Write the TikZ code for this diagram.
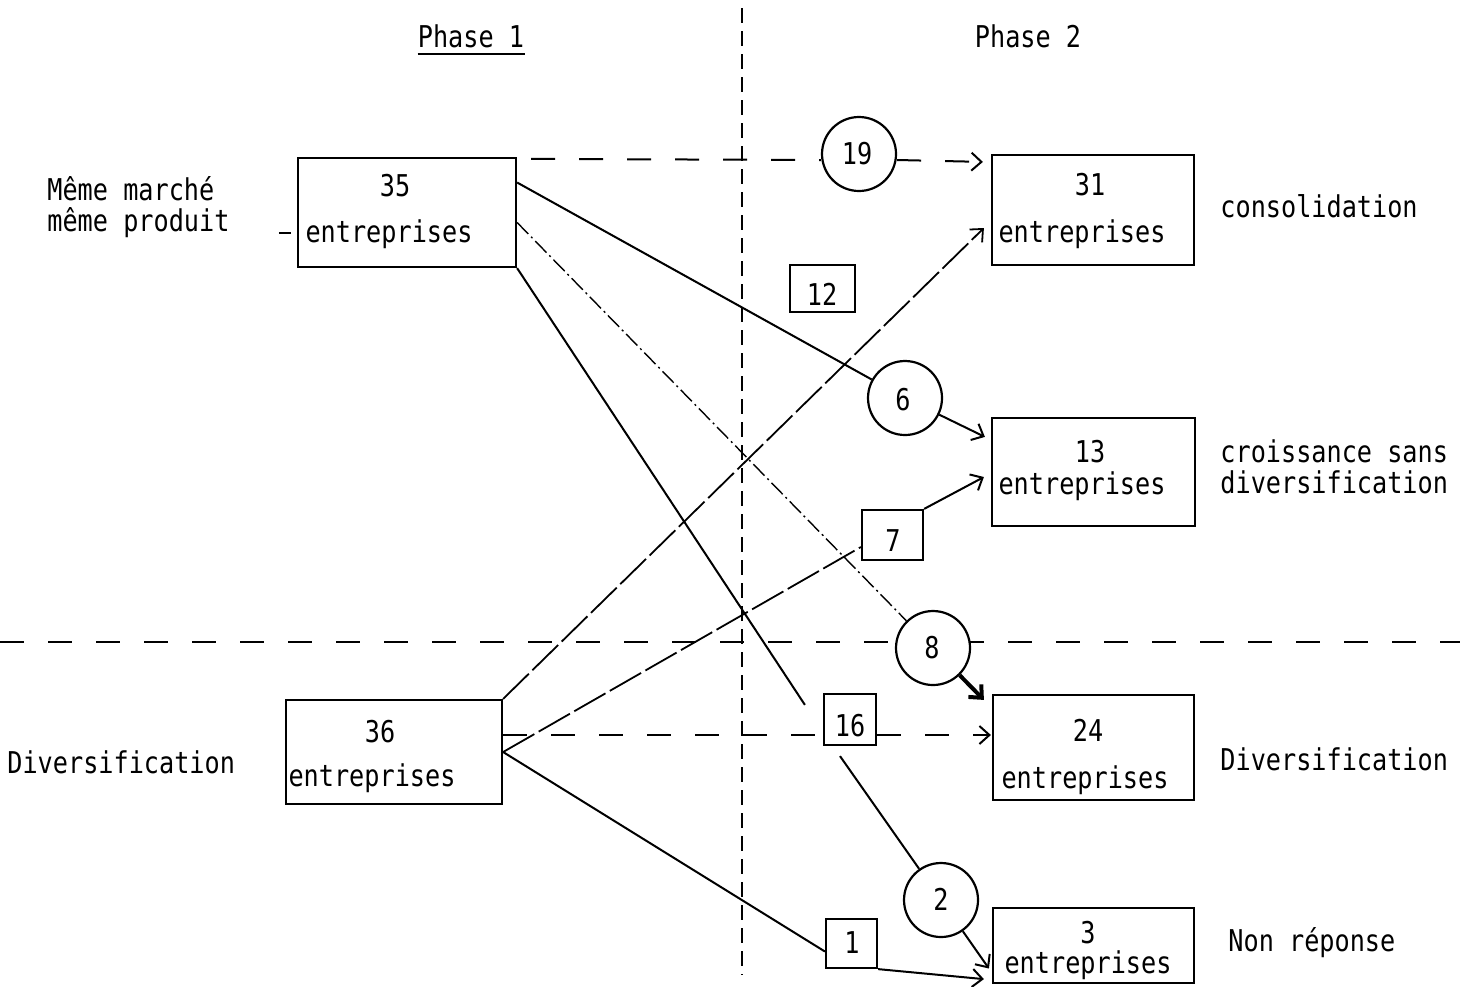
\documentclass[tikz,border=0pt]{standalone}
\usepackage{fontspec}
\newfontfamily\tw[FakeStretch=0.84]{DejaVu Sans Mono}
\usetikzlibrary{arrows.meta,calc}
\pgfdeclarelayer{bg}
\pgfsetlayers{bg,main}

\begin{document}
\begin{tikzpicture}[x=0.5pt,y=-0.5pt,
  txt/.style={font=\tw\fontsize{15}{17}\selectfont, inner sep=0pt, text height=10pt, text depth=0pt},
  lbl/.style={txt, anchor=west},
  bigbox/.style={draw, line width=1.1pt, fill=white, inner sep=0pt},
  smallbox/.style={draw, line width=1.1pt, fill=white, inner sep=0pt},
  ring/.style={draw, circle, line width=1.1pt, fill=white, inner sep=0pt, minimum size=37pt},
  tip/.style={-{Straight Barb[length=5pt,width=9pt]}},
  ln/.style={line width=1pt},
  dashln/.style={line width=1pt, dash pattern=on 12pt off 12pt},
  vdash/.style={line width=1pt, dash pattern=on 7.5pt off 4pt},
  longdash/.style={line width=0.9pt, dash pattern=on 18pt off 2.5pt},
  dotln/.style={line width=0.7pt, dash pattern=on 8pt off 2pt on 1pt off 2pt},
  heavy/.style={line width=2pt, -{Straight Barb[length=5pt,width=9pt]}}
]
\useasboundingbox (0,0) rectangle (1470,986);

% headings
\node[txt] (ph1) at (471,37) {Phase 1};
\node[txt] (ph2) at (1028,37) {Phase 2};
\draw[line width=1pt] ($(ph1.south west)+(0,7)$) -- ($(ph1.south east)+(0,7)$);

% phase and category separators
\coordinate (vtop) at (742,8);
\coordinate (vbot) at (742,975);
\coordinate (hleft) at (0,642);
\coordinate (hright) at (1460,642);
\begin{pgfonlayer}{bg}
\draw[vdash] (vtop) -- (vbot);
\draw[dashln] (hleft) -- (hright);
\end{pgfonlayer}

% firms in phase 1
\node[bigbox, minimum width=109pt, minimum height=54.5pt] (A) at (407,212.5) {};
\node[txt] (A1) at (395,186) {35};
\node[txt] (A2) at (389,232) {entreprises};
\node[bigbox, minimum width=108pt, minimum height=52pt] (D) at (394,752) {};
\node[txt] (D1) at (380,732) {36};
\node[txt] (D2) at (372,776) {entreprises};

% firms in phase 2
\node[bigbox, minimum width=101pt, minimum height=55pt] (B) at (1093,210) {};
\node[txt] (B1) at (1090,185) {31};
\node[txt] (B2) at (1082,232) {entreprises};
\node[bigbox, minimum width=101.5pt, minimum height=54pt] (C) at (1093.5,472) {};
\node[txt] (C1) at (1090,452) {13};
\node[txt] (C2) at (1082,484) {entreprises};
\node[bigbox, minimum width=100.5pt, minimum height=52.5pt] (E) at (1093.5,747.5) {};
\node[txt] (E1) at (1088,731) {24};
\node[txt] (E2) at (1085,778) {entreprises};
\node[bigbox, minimum width=100.5pt, minimum height=37.5pt] (F) at (1093.5,945.5) {};
\node[txt] (F1) at (1088,933) {3};
\node[txt] (F2) at (1088,963) {entreprises};

% transition counts
\node[smallbox, minimum width=32.5pt, minimum height=23.5pt] (b12) at (822.5,288.5) {};
\node[txt] (t12) at (822,295) {12};
\node[smallbox, minimum width=30.5pt, minimum height=25pt] (b7) at (892.5,535) {};
\node[txt] (t7) at (893,541) {7};
\node[smallbox, minimum width=26pt, minimum height=25.5pt] (b16) at (850,719.5) {};
\node[txt] (t16) at (850,726) {16};
\node[smallbox, minimum width=25.5pt, minimum height=24.5pt] (b1) at (851.5,943.5) {};
\node[txt] (t1) at (852,943) {1};

\node[ring] (c19) at (859,154) {};
\node[txt] (t19) at (857,154) {19};
\node[ring] (c6) at (905,398) {};
\node[txt] (t6) at (903,400) {6};
\node[ring] (c8) at (933,648) {};
\node[txt] (t8) at (932,648) {8};
\node[ring] (c2) at (941,900) {};
\node[txt] (t2) at (941,900) {2};

% row and column labels
\node[lbl] (l1) at (47,190) {Même marché};
\node[lbl] (l2) at (47,221) {même produit};
\node[lbl] (l3) at (7,763) {Diversification};
\node[lbl] (r1) at (1220,207) {consolidation};
\node[lbl] (r2) at (1220,452) {croissance sans};
\node[lbl] (r3) at (1220,483) {diversification};
\node[lbl] (r4) at (1220,760) {Diversification};
\node[lbl] (r5) at (1228,941) {Non réponse};

% flows between the two phases
\begin{pgfonlayer}{bg}
\draw[line width=1pt] ($(A.west)+(-18,20)$) -- ($(A.west)+(-6,20)$);
\draw[dashln] ($(A.north east)+(14,2)$) -- ($(c19.west)+(0,6)$);
\draw[dashln, tip] ($(c19.east)+(0,6)$) -- ($(B.north west)+(-8,8)$);
\draw[ln] ($(A.east)+(0,-30)$) -- (c6);
\draw[ln, tip] (c6) -- ($(C.north west)+(-6,20)$);
\draw[dotln] ($(A.east)+(0,10)$) -- (c8);
\draw[heavy] (c8) -- ($(E.north west)+(-8,6)$);
\draw[ln] (A.south east) -- ($(b16.north west)+(-18,12)$);
\draw[ln] ($(b16.south)+(-10,10)$) -- (c2);
\draw[ln, tip] (c2) -- ($(F.west)+(-3,23)$);
\draw[longdash, tip] (D.north east) -- ($(B.west)+(-7,18)$);
\draw[dashln] ($(D.east)+(0,-17)$) -- ($(b16.west)+(0,15.5)$);
\draw[dashln, tip] ($(b16.east)+(0,15.5)$) -- ($(E.west)+(-1,-12.5)$);
\draw[longdash] (D.east) -- ($(b7.west)+(0,12)$);
\draw[ln, tip] (b7.north east) -- ($(C.west)+(-7,5)$);
\draw[ln] (D.east) -- ($(b1.west)+(0,8)$);
\draw[ln, tip] (b1.south east) -- ($(F.south west)+(-8,-5)$);
\end{pgfonlayer}
\end{tikzpicture}
\end{document}
